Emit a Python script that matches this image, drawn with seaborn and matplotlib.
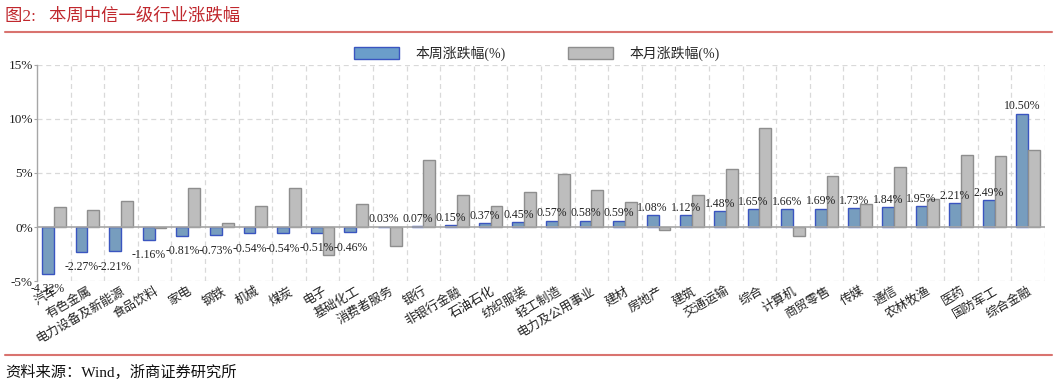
import numpy as np
import pandas as pd
import matplotlib.pyplot as plt
import seaborn as sns
from matplotlib.lines import Line2D
from matplotlib.patches import Patch

# data
industries = ['汽车', '有色金属', '电力设备及新能源', '食品饮料', '家电', '钢铁', '机械', '煤炭',
              '电子', '基础化工', '消费者服务', '银行', '非银行金融', '石油石化', '纺织服装',
              '轻工制造', '电力及公用事业', '建材', '房地产', '建筑', '交通运输', '综合',
              '计算机', '商贸零售', '传媒', '通信', '农林牧渔', '医药', '国防军工', '综合金融']
week_chg = [-4.32, -2.27, -2.21, -1.16, -0.81, -0.73, -0.54, -0.54, -0.51, -0.46,
            0.03, 0.07, 0.15, 0.37, 0.45, 0.57, 0.58, 0.59, 1.08, 1.12,
            1.48, 1.65, 1.66, 1.69, 1.73, 1.84, 1.95, 2.21, 2.49, 10.50]
month_chg = [1.87, 1.53, 2.45, -0.12, 3.62, 0.40, 1.96, 3.59, -2.58, 2.15,
             -1.75, 6.20, 3.00, 1.93, 3.25, 4.88, 3.40, 2.36, -0.28, 2.94,
             5.40, 9.20, -0.86, 4.75, 2.15, 5.55, 2.55, 6.66, 6.56, 7.15]
series_names = ['本周涨跌幅(%)', '本月涨跌幅(%)']
yticks = [-5, 0, 5, 10, 15]

BLUE, BLUE_EDGE = '#6B9ECA', '#3A55C0'
GRAY, GRAY_EDGE = '#BDBDBD', '#8E8E8E'
RED = '#C0272D'

sns.set_style('white')
plt.rcParams['font.family'] = ['Liberation Serif', 'Noto Sans CJK SC']
plt.rcParams['axes.unicode_minus'] = False

df = pd.DataFrame({
    'industry': industries * 2,
    'series': [series_names[0]] * len(industries) + [series_names[1]] * len(industries),
    'value': week_chg + month_chg,
})

fig = plt.figure(figsize=(10.57, 3.85), dpi=100)
ax = fig.add_axes([0.035, 0.2701, 0.9536, 0.5611])

sns.barplot(data=df, x='industry', y='value', hue='series', order=industries,
            hue_order=series_names, palette=[BLUE, GRAY], width=0.7, gap=0,
            errorbar=None, legend=False, ax=ax, zorder=3)

for patch in ax.containers[0]:
    patch.set_edgecolor(BLUE_EDGE)
    patch.set_linewidth(1.0)
for patch in ax.containers[1]:
    patch.set_edgecolor(GRAY_EDGE)
    patch.set_linewidth(1.0)

# value labels on weekly bars
pos_labels = [f'{v:.2f}%' if v >= 0 else '' for v in week_chg]
neg_labels = [f'{v:.2f}%' if v < 0 else '' for v in week_chg]
ax.bar_label(ax.containers[0], labels=pos_labels, padding=1, fontsize=8.5, color='#222222')
ax.bar_label(ax.containers[0], labels=neg_labels, padding=7, fontsize=8.5, color='#222222')

ax.set_xlim(-0.5, len(industries) - 0.5)
ax.set_ylim(-5, 15)
ax.set_yticks(yticks)
ax.set_yticklabels([f'{t}%' for t in yticks], fontsize=9.5, color='#222222')
ax.set_xlabel('')
ax.set_ylabel('')

# grid
for t in yticks:
    if t != 0:
        ax.axhline(t, color='#D9D9D9', lw=0.9, ls=(0, (4, 3)), zorder=0)
for i in range(len(industries)):
    ax.axvline(i + 0.5, color='#D9D9D9', lw=0.9, ls=(0, (4, 3)), zorder=0)
ax.axhline(0, color='#A6A6A6', lw=1.2, zorder=4)

for side in ['top', 'right', 'bottom']:
    ax.spines[side].set_visible(False)
ax.spines['left'].set_color('#A6A6A6')
ax.spines['left'].set_linewidth(1.0)
ax.tick_params(axis='y', length=2, pad=1, color='#A6A6A6', left=True)
ax.tick_params(axis='x', length=0, pad=3)
for lab in ax.get_xticklabels():
    lab.set_rotation(30)
    lab.set_ha('right')
    lab.set_va('top')
    lab.set_rotation_mode('anchor')
    lab.set_fontsize(9)
    lab.set_color('#222222')

handles = [Patch(facecolor=BLUE, edgecolor=BLUE_EDGE, label=series_names[0]),
           Patch(facecolor=GRAY, edgecolor=GRAY_EDGE, label=series_names[1])]
fig.legend(handles=handles, loc='center', bbox_to_anchor=(0.508, 0.862), ncol=2,
           frameon=False, fontsize=10, handlelength=3.2, handleheight=0.9,
           columnspacing=4.5, handletextpad=1.2)

# title, rules and source
fig.text(0.005, 0.958, '图2:   本周中信一级行业涨跌幅', color=RED, fontsize=12.5, va='center')
fig.add_artist(Line2D([0.005, 0.995], [0.918, 0.918], color='#D9736F', lw=1.5))
fig.add_artist(Line2D([0.005, 0.995], [0.078, 0.078], color='#D9736F', lw=1.5))
fig.text(0.005, 0.034, '资料来源：Wind，浙商证券研究所', color='#111111', fontsize=11, va='center')

fig.savefig('out.png', dpi=100)
